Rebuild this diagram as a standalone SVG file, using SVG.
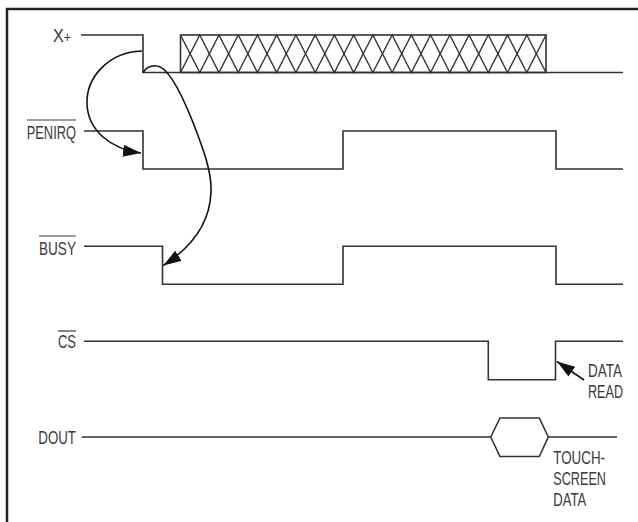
<svg xmlns="http://www.w3.org/2000/svg" width="638" height="522" viewBox="0 0 638 522">
<style>
.w{fill:none;stroke:#333;stroke-width:1.6;stroke-linejoin:miter}
.h{fill:none;stroke:#333;stroke-width:1.4}
.t{font-family:"Liberation Sans",Arial,sans-serif;font-size:18.5px;fill:#3a3a3a}
.ol{stroke:#3a3a3a;stroke-width:1.2}
.c{fill:none;stroke:#111;stroke-width:1.6}
.frame{fill:none;stroke:#222;stroke-width:2.5}
</style>
<defs>
<marker id="ah" markerUnits="userSpaceOnUse" markerWidth="19" markerHeight="12" refX="18" refY="6" orient="auto">
<path d="M0,0 L18,6 L0,12 z" fill="#111"/>
</marker>
</defs>
<rect width="638" height="522" fill="#fff"/>
<path class="frame" d="M7,522 V9 H638"/>

<g id="xplus">
<text class="t" x="53" y="42" textLength="18" lengthAdjust="spacingAndGlyphs">X<tspan font-size="14">+</tspan></text>
<path class="w" d="M81,35 H143 V72.5 H623"/>
<rect class="w" x="180.5" y="35" width="365.5" height="37.5"/>
<path class="h" d="M180.5,35 L199.74,72.5 L218.97,35 L238.21,72.5 L257.45,35 L276.68,72.5 L295.92,35 L315.16,72.5 L334.39,35 L353.63,72.5 L372.87,35 L392.1,72.5 L411.34,35 L430.58,72.5 L449.82,35 L469.05,72.5 L488.29,35 L507.53,72.5 L526.76,35 L546,72.5"/>
<path class="h" d="M180.5,72.5 L199.74,35 L218.97,72.5 L238.21,35 L257.45,72.5 L276.68,35 L295.92,72.5 L315.16,35 L334.39,72.5 L353.63,35 L372.87,72.5 L392.1,35 L411.34,72.5 L430.58,35 L449.82,72.5 L469.05,35 L488.29,72.5 L507.53,35 L526.76,72.5 L546,35"/>
</g>

<g id="penirq">
<text class="t" x="26.7" y="138.5" textLength="49.3" lengthAdjust="spacingAndGlyphs">PENIRQ</text>
<line class="ol" x1="27" y1="120" x2="76" y2="120"/>
<path class="w" d="M84,131 H143 V169 H343 V131 H556 V169 H623"/>
</g>

<g id="busy">
<text class="t" x="39" y="255" textLength="37" lengthAdjust="spacingAndGlyphs">BUSY</text>
<line class="ol" x1="39" y1="236" x2="76" y2="236"/>
<path class="w" d="M84,246.3 H162.5 V284.3 H343 V246.3 H556 V284.3 H623"/>
</g>

<g id="cs">
<text class="t" x="58" y="348.3" textLength="18" lengthAdjust="spacingAndGlyphs">CS</text>
<line class="ol" x1="58" y1="331" x2="76" y2="331"/>
<path class="w" d="M84,341.3 H488.3 V379.7 H555.5 V341.3 H623"/>
</g>

<g id="dout">
<text class="t" x="38.3" y="444" textLength="37.7" lengthAdjust="spacingAndGlyphs">DOUT</text>
<path class="w" d="M81.7,437 H490.7 L500,418 H539.3 L548.3,437 L539.3,456.5 H500 L490.7,437 M548.3,437 H617"/>
</g>

<g id="label-data-read">
<text class="t" x="588" y="377" textLength="34" lengthAdjust="spacingAndGlyphs">DATA</text>
<text class="t" x="588" y="398" textLength="35" lengthAdjust="spacingAndGlyphs">READ</text>
</g>

<g id="label-touch-screen-data">
<text class="t" x="553.3" y="463.5" textLength="51.7" lengthAdjust="spacingAndGlyphs">TOUCH-</text>
<text class="t" x="553.3" y="484.5" textLength="52.7" lengthAdjust="spacingAndGlyphs">SCREEN</text>
<text class="t" x="553.3" y="505.5" textLength="33" lengthAdjust="spacingAndGlyphs">DATA</text>
</g>

<g id="connectors">
<path class="c" marker-end="url(#ah)" d="M142,51 C108,52 86,78 87,104 C88,130 110,149 141,153"/>
<path class="c" marker-end="url(#ah)" d="M143,72.5 C147,66 152,65.5 156,65.7 C168,66 182,95 192,120 C203,148 212,172 211,192 C210,222 192,247 163.3,265.5"/>
<path class="c" marker-end="url(#ah)" d="M584,380 L557,361.5"/>
</g>
</svg>
